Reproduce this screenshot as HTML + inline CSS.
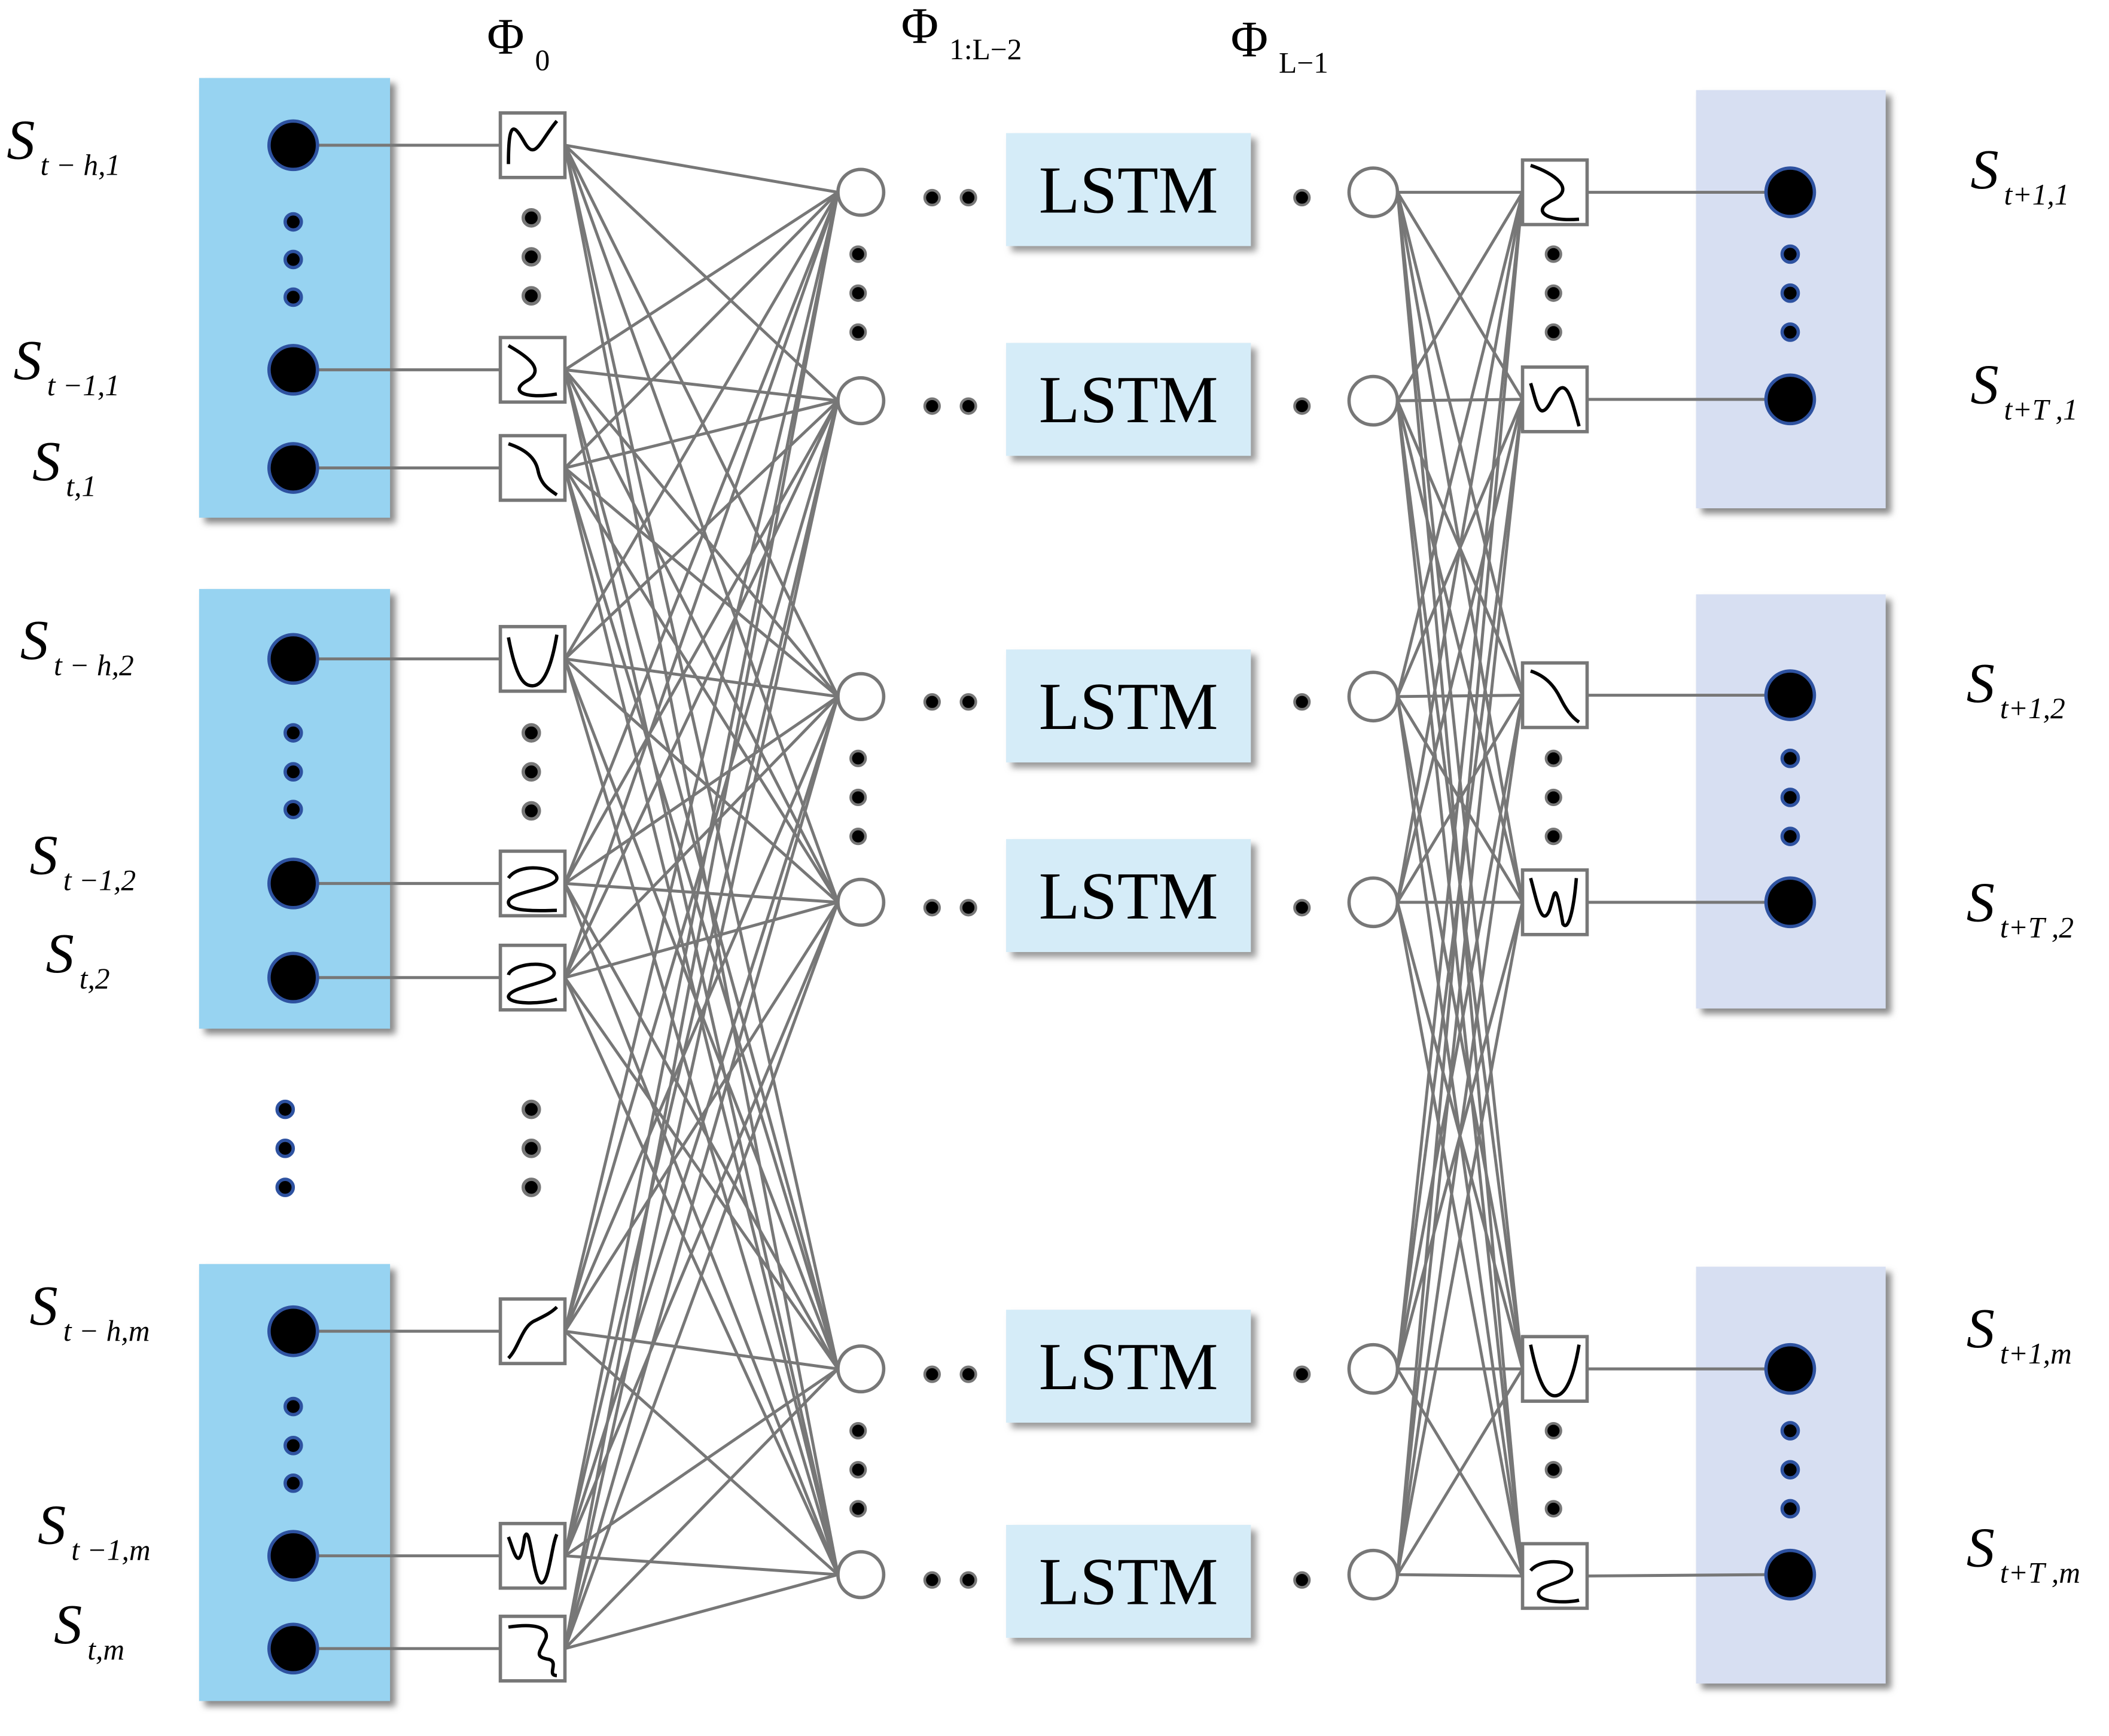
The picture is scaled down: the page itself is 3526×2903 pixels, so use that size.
<!DOCTYPE html>
<html><head><meta charset="utf-8"><style>
html,body{margin:0;padding:0;background:#fff;}
svg{display:block;}
text{font-family:"Liberation Serif",serif;}
</style></head><body>
<svg id="fig" xmlns="http://www.w3.org/2000/svg" width="3526" height="2903" viewBox="0 0 1568 1291">
<defs>
<filter id="sh" x="-20%" y="-20%" width="150%" height="150%"><feGaussianBlur stdDeviation="2.5"/></filter>
</defs>
<g id="bg"></g>
<g id="edges"></g>
<g id="nodes"></g>
<g id="labels"></g>
</svg>
<script>
const NS="http://www.w3.org/2000/svg";
const inGroups=[[58,385],[438,765],[940,1265]];
const outGroups=[[67,378],[442,750],[942,1252]];
const inNodeY=[108,275,348,490,657,727,990,1157,1226];
const inDotY=[165,193,221,545,574,602,1046,1075,1103];
const phiDotY=[162,191,220,545,574,603,825,854,883];
const hidY=[143,298,518,671,1018,1171];
const lstmY=[141,297,525,666,1016,1176];
const hidDotY=[189,218,247,564,593,622,1064,1093,1122];
const inCurves=["M6,38 C6,5 10,8 18,22 C26,36 30,20 42,6","M6,6 C20,14 34,24 20,32 C6,40 18,46 42,42","M6,6 C18,10 26,16 28,26 C30,36 36,40 42,44","M6,8 C12,40 18,44 24,44 C32,44 38,30 42,6","M6,20 C14,8 42,12 42,20 C42,28 6,30 6,38 C6,46 34,44 42,44","M6,22 C8,14 36,10 40,20 C42,28 8,30 6,38 C6,44 30,44 42,40","M6,44 C14,36 16,20 26,16 C34,12 38,10 42,6","M6,10 C10,20 14,40 18,10 C22,-2 24,40 30,44 C36,46 38,16 42,8","M6,8 C20,6 36,6 34,16 C30,26 24,30 36,32 C44,34 34,44 42,44"];
const outFnY=[143,297,517,671,1018,1172];
const outCurves=["M6,4 C24,10 40,22 22,30 C6,38 18,46 42,44","M6,12 C10,24 12,44 22,24 C32,4 36,22 42,44","M6,6 C18,10 24,18 28,26 C32,34 36,40 42,44","M6,6 C10,20 14,44 20,30 C24,18 24,4 30,40 C34,46 38,30 40,6","M6,6 C12,36 18,44 24,44 C32,44 38,30 42,6","M6,20 C14,10 40,12 36,22 C32,30 10,30 12,38 C14,44 34,44 42,42"];
const outNodeY=[143,297,517,671,1018,1171];
const outDotY=[189,218,247,564,593,622,1064,1093,1122];
const inLabels=[["S","t − h,1",5,118],["S","t −1,1",10,282],["S","t,1",24,357],["S","t − h,2",15,490],["S","t −1,2",22,650],["S","t,2",34,723],["S","t − h,m",22,985],["S","t −1,m",28,1148],["S","t,m",40,1222]];
const outLabels=[["S","t+1,1",1465,140],["S","t+T ,1",1465,300],["S","t+1,2",1462,522],["S","t+T ,2",1462,685],["S","t+1,m",1462,1002],["S","t+T ,m",1462,1165]];
function mk(tag,attrs,parent){const e=document.createElementNS(NS,tag);for(const k in attrs)e.setAttribute(k,attrs[k]);document.getElementById(parent).appendChild(e);return e;}
// group backgrounds
inGroups.forEach(g=>{
 mk("rect",{x:152,y:g[0]+4,width:142,height:g[1]-g[0],fill:"#888",filter:"url(#sh)"},"bg");
 const r=mk("rect",{x:148,y:g[0],width:142,height:g[1]-g[0],fill:"#97d3f1"},"bg");
 
 
});
outGroups.forEach(g=>{
 mk("rect",{x:1265,y:g[0]+4,width:141,height:g[1]-g[0],fill:"#888",filter:"url(#sh)"},"bg");
 const r=mk("rect",{x:1261,y:g[0],width:141,height:g[1]-g[0],fill:"#d7dff2"},"bg");
 
 
});
// LSTM boxes
lstmY.forEach(y=>{
 mk("rect",{x:752,y:y-42+4,width:182,height:84,fill:"#999",filter:"url(#sh)"},"bg");
 const r=mk("rect",{x:748,y:y-42,width:182,height:84,fill:"#d5ecf8"},"bg");
 
 
 const t=mk("text",{x:839,y:y+17,"font-size":50,"text-anchor":"middle",fill:"#000"},"labels");
 t.textContent="LSTM";
 
 
});
// edges
inNodeY.forEach(y=>{
 const l=mk("line",{x1:236,y1:y,x2:372,y2:y,stroke:"#777","stroke-width":2.2},"edges");
 
 
 hidY.forEach(h=>{
  const e=mk("line",{x1:420,y1:y,x2:623,y2:h,stroke:"#777","stroke-width":2.2},"edges");
  
  
 });
});
outFnY.forEach((y,i)=>{
 const l=mk("line",{x1:1180,y1:y,x2:1313,y2:outNodeY[i],stroke:"#777","stroke-width":2.2},"edges");
 
 
 hidY.forEach(h=>{
  const e=mk("line",{x1:1039,y1:h,x2:1132,y2:y,stroke:"#777","stroke-width":2.2},"edges");
  
  
 });
});
// nodes
inNodeY.forEach(y=>{
 const c=mk("circle",{cx:218,cy:y,r:18,fill:"#000",stroke:"#2e52a0","stroke-width":2.5},"nodes");
 
 
});
inDotY.concat([825,854,883]).forEach((y,i)=>{
 const c=mk("circle",{cx:i<9?218:212,cy:y,r:6,fill:"#000",stroke:"#2e52a0","stroke-width":2.5},"nodes");
 
 
});
phiDotY.forEach(y=>{
 const c=mk("circle",{cx:395,cy:y,r:6,fill:"#000",stroke:"#777","stroke-width":2.5},"nodes");
 
 
});
function fnBox(x,y,d){
 const r=mk("rect",{x:x,y:y-24,width:48,height:48,fill:"#fff",stroke:"#777","stroke-width":2.5},"nodes");
 
 
 const p=mk("path",{d:d,transform:`translate(${x},${y-24})`,fill:"none",stroke:"#000","stroke-width":2.5},"nodes");
 
 
}
inNodeY.forEach((y,i)=>fnBox(372,y,inCurves[i]));
outFnY.forEach((y,i)=>fnBox(1132,y,outCurves[i]));
hidY.forEach(y=>{
 const a=mk("circle",{cx:640,cy:y,r:17,fill:"#fff",stroke:"#777","stroke-width":2.5},"nodes");
 
 
 const b=mk("circle",{cx:1021,cy:y,r:18,fill:"#fff",stroke:"#777","stroke-width":2.5},"nodes");
 
 
 [693,720,968].forEach(x=>{
  const d=mk("circle",{cx:x,cy:y+4,r:5.5,fill:"#000",stroke:"#777","stroke-width":2},"nodes");
  
  
 });
});
hidDotY.forEach(y=>{
 [638,1155].forEach(x=>{
  const d=mk("circle",{cx:x,cy:y,r:5.5,fill:"#000",stroke:"#777","stroke-width":2},"nodes");
  
  
 });
});
outNodeY.forEach(y=>{
 const c=mk("circle",{cx:1331,cy:y,r:18,fill:"#000",stroke:"#2e52a0","stroke-width":2.5},"nodes");
 
 
});
outDotY.forEach(y=>{
 const c=mk("circle",{cx:1331,cy:y,r:6,fill:"#000",stroke:"#2e52a0","stroke-width":2.5},"nodes");
 
 
});
function lab(L,name){
 const t=mk("text",{x:L[2],y:L[3],"font-style":"italic","font-size":42,fill:"#000"},"labels");
 
 
 t.appendChild(document.createTextNode(L[0]));
 const s=document.createElementNS(NS,"tspan");
 s.setAttribute("font-size","22");s.setAttribute("dx","4");s.setAttribute("dy","12");
 s.textContent=L[1];t.appendChild(s);
}
inLabels.forEach(L=>lab(L,'input-label'));
outLabels.forEach(L=>lab(L,'output-label'));
[["Φ","0",362,40],["Φ","1:L−2",670,32],["Φ","L−1",915,42]].forEach(h=>{
 const t=mk("text",{x:h[2],y:h[3],"font-size":38,fill:"#000"},"labels");
 
 
 t.appendChild(document.createTextNode(h[0]));
 const s=document.createElementNS(NS,"tspan");
 s.setAttribute("font-size","22");s.setAttribute("dx","8");s.setAttribute("dy","12");
 s.textContent=h[1];t.appendChild(s);
});
</script>
</body></html>
